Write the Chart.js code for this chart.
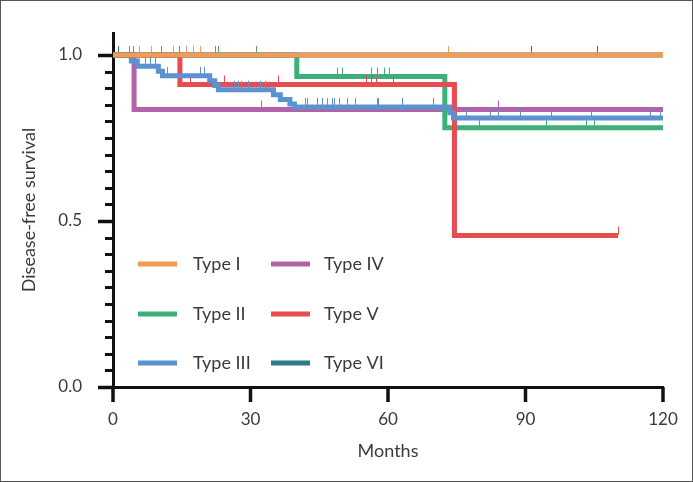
<!DOCTYPE html>
<html>
<head>
<meta charset="utf-8">
<script src="https://cdn.jsdelivr.net/npm/chart.js@4.4.0/dist/chart.umd.min.js"></script>
<style>
html, body { margin: 0; padding: 0; background: #fff; }
#wrap { width: 691px; height: 480px; border: 1px solid #555; }
canvas { display: block; }
</style>
</head>
<body>
<div id="wrap"><canvas id="km" width="691" height="480"></canvas></div>
<script>
const typeNames = ["Type I", "Type II", "Type III", "Type IV", "Type V", "Type VI"];
const typeColors = ["#F39A55", "#3DB07A", "#5B93D1", "#B462A8", "#E84B50", "#2C7B8C"];

// step curves: time of each step (months) and survival after it
const type1Times = [0, 120];
const type1Surv = [1, 1];
const type1Censor = [5.7, 8.5, 13.1, 16.1, 17.5, 19.0, 73.1, 120];

const type2Times = [0, 40.1, 72.4, 120];
const type2Surv = [1, 0.935, 0.781, 0.781];
const type2Censor = [3.7, 4.4, 10.5, 14.6, 22.3, 23.1, 31.2, 48.9, 50.0, 56.5, 57.8, 59.3, 60.4, 79.9, 94.5, 103.2, 105.0, 120];

const type3Times = [0, 4.0, 5.3, 9.9, 10.8, 21.1, 22.2, 23.0, 35.0, 36.5, 38.6, 39.6, 73.5, 74.3, 120];
const type3Surv = [1, 0.982, 0.966, 0.951, 0.937, 0.922, 0.908, 0.895, 0.880, 0.866, 0.852, 0.843, 0.826, 0.81, 0.81];
const type3Censor = [7.0, 8.1, 9.2, 11.8, 19.0, 19.9, 26.6, 27.3, 28.1, 29.5, 32.1, 33.2, 41.9, 42.5, 44.7, 45.6, 46.7, 47.8, 48.4, 49.5, 51.1, 52.8, 57.6, 58.0, 63.1, 70.0, 77.2, 82.3, 84.0, 88.8, 95.6, 104.5, 117.2, 119.4];

const type4Times = [0, 4.6, 120];
const type4Surv = [1, 0.836, 0.836];
const type4Censor = [32.3, 84.2, 120];

const type5Times = [0, 14.6, 74.5, 110.2];
const type5Surv = [1, 0.911, 0.456, 0.456];
const type5Censor = [17.0, 24.4, 36.0, 55.2, 56.3, 57.4, 61.3, 110.2];

const type6Times = [0, 120];
const type6Surv = [1, 1];
const type6Censor = [1.1, 91.2, 105.6];

const xTicks = [0, 30, 60, 90, 120];
const yLabels = [0, 0.5, 1.0];

const curves = [
    [type1Times, type1Surv, type1Censor],
    [type2Times, type2Surv, type2Censor],
    [type3Times, type3Surv, type3Censor],
    [type4Times, type4Surv, type4Censor],
    [type5Times, type5Surv, type5Censor],
    [type6Times, type6Surv, type6Censor]
];
// which curve sits on top (first = top)
const drawOrder = [0, 5, 2, 4, 1, 3];

function survAt(times, surv, t) {
    let v = surv[0];
    for (let i = 0; i < times.length; i++) {
        if (times[i] <= t) v = surv[i];
    }
    return v;
}

function censorMark(color) {
    const c = document.createElement("canvas");
    c.width = 1;
    c.height = 20;
    const g = c.getContext("2d");
    g.fillStyle = color;
    g.fillRect(0, 1, 1, 8);
    return c;
}

const datasets = [];
drawOrder.forEach((k, i) => {
    const [times, surv, censor] = curves[k];
    datasets.push({
        label: typeNames[k] + " censored",
        data: censor.map(t => ({ x: t, y: survAt(times, surv, t) })),
        showLine: false,
        pointStyle: censorMark(typeColors[k]),
        pointRadius: 3,
        order: i * 2
    });
    datasets.push({
        label: typeNames[k],
        data: times.map((t, j) => ({ x: t, y: surv[j] })),
        borderColor: typeColors[k],
        borderWidth: 5,
        stepped: true,
        pointRadius: 0,
        borderCapStyle: "butt",
        borderJoinStyle: "miter",
        fill: false,
        order: i * 2 + 1
    });
});

const textColor = "#3a3a3a";
const fontFamily = "Lato, 'Open Sans', sans-serif";

function noPad(s) {
    s.paddingTop = 0;
    s.paddingBottom = 0;
    s.paddingLeft = 0;
    s.paddingRight = 0;
}

const axisTicks = {
    id: "axisTicks",
    afterDraw(chart) {
        const ctx = chart.ctx;
        const x = chart.scales.x, y = chart.scales.y;
        ctx.save();
        ctx.strokeStyle = "#111";
        y.ticks.forEach(t => {
            const n = Math.round(t.value / 0.05);
            if (Math.abs(t.value - n * 0.05) > 1e-6) return;
            const major = n % 10 === 0;
            const py = Math.round(y.getPixelForValue(t.value)) + 0.5;
            ctx.lineWidth = major ? 3.5 : 3;
            ctx.beginPath();
            ctx.moveTo(y.right, py);
            ctx.lineTo(y.right - (major ? 15 : 8), py);
            ctx.stroke();
        });
        xTicks.forEach(v => {
            const px = x.getPixelForValue(v);
            ctx.lineWidth = 3.5;
            ctx.beginPath();
            ctx.moveTo(px, x.top);
            ctx.lineTo(px, x.top + 15);
            ctx.stroke();
        });
        ctx.restore();
    }
};

const kmLegend = {
    id: "kmLegend",
    afterDraw(chart) {
        const ctx = chart.ctx;
        const a = chart.chartArea;
        const rows = [231, 281, 330];
        const cols = [[25, 64, 80], [158, 197, 211]];
        ctx.save();
        ctx.font = "18px " + fontFamily;
        ctx.textBaseline = "middle";
        ctx.fillStyle = textColor;
        typeNames.forEach((name, k) => {
            const c = cols[Math.floor(k / 3)];
            const yy = a.top + rows[k % 3];
            ctx.strokeStyle = typeColors[k];
            ctx.lineWidth = 5;
            ctx.beginPath();
            ctx.moveTo(a.left + c[0], yy);
            ctx.lineTo(a.left + c[1], yy);
            ctx.stroke();
            ctx.fillText(name, a.left + c[2], yy);
        });
        ctx.restore();
    }
};

new Chart(document.getElementById("km"), {
    type: "line",
    data: { datasets: datasets },
    options: {
        responsive: false,
        animation: false,
        layout: { padding: { top: 32, right: 29, left: 0, bottom: 0 } },
        plugins: { legend: { display: false }, tooltip: { enabled: false } },
        scales: {
            x: {
                type: "linear",
                min: 0,
                max: 120,
                afterFit: s => { s.height = 94; noPad(s); },
                border: { color: "#111", width: 3 },
                grid: { display: false, drawTicks: false },
                afterBuildTicks: s => { s.ticks = xTicks.map(v => ({ value: v })); },
                ticks: { padding: 22, color: textColor, font: { family: fontFamily, size: 17 } },
                title: { display: true, text: "Months", color: textColor, padding: { top: 0, bottom: 19 }, font: { family: fontFamily, size: 18 } }
            },
            y: {
                min: 0,
                max: 1.066,
                afterFit: s => { s.width = 112; noPad(s); },
                border: { color: "#111", width: 3 },
                grid: { display: false, drawTicks: false },
                ticks: {
                    stepSize: 0.05,
                    autoSkip: false,
                    padding: 31,
                    color: textColor,
                    font: { family: fontFamily, size: 17 },
                    callback: v => yLabels.some(l => Math.abs(l - v) < 1e-6) ? v.toFixed(1) : ""
                },
                title: { display: true, text: "Disease-free survival", color: textColor, padding: { top: 17, bottom: 0 }, font: { family: fontFamily, size: 18 } }
            }
        }
    },
    plugins: [axisTicks, kmLegend]
});
</script>
</body>
</html>
